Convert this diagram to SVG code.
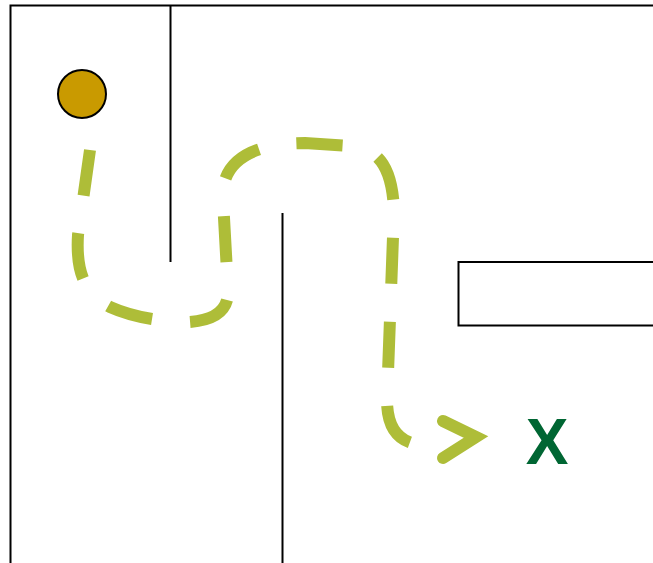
<svg xmlns="http://www.w3.org/2000/svg" width="653" height="563" viewBox="0 0 653 563">
<style>
.wall{fill:none;stroke:#000;stroke-width:2}
.route{fill:none;stroke:#AEBD38;stroke-width:12}
</style>
<rect width="653" height="563" fill="#fff"/>
<g id="walls">
<path class="wall" d="M10.5 563 V5.5 H653"/>
<path class="wall" d="M170.5 5 V262"/>
<path class="wall" d="M282.5 213 V563"/>
<path class="wall" d="M653 262 H458.5 V325.5 H653"/>
</g>
<g id="ball"><circle cx="82" cy="94" r="24" fill="#C99A00" stroke="#000" stroke-width="2"/></g>
<g id="connectors">
<path class="route" stroke-dasharray="46 38" d="M90 150 L78 235 C76 268 82 292 110 307 C130 316 158 322 190 322 C215 320 229 310 228 290 L223 200 C220 163 250 143 305 143 L352 146 C380 150 392 168 394 210 L387 400 C387 430 400 443 422 445"/>
<polyline points="443,421 476,437 443,458" fill="none" stroke="#AEBD38" stroke-width="12" stroke-linecap="round" stroke-linejoin="miter"/>
</g>
<g id="target"><text x="547" y="464" font-family="Liberation Sans, Arial, sans-serif" font-weight="bold" font-size="64" fill="#006633" text-anchor="middle">X</text></g>
</svg>
